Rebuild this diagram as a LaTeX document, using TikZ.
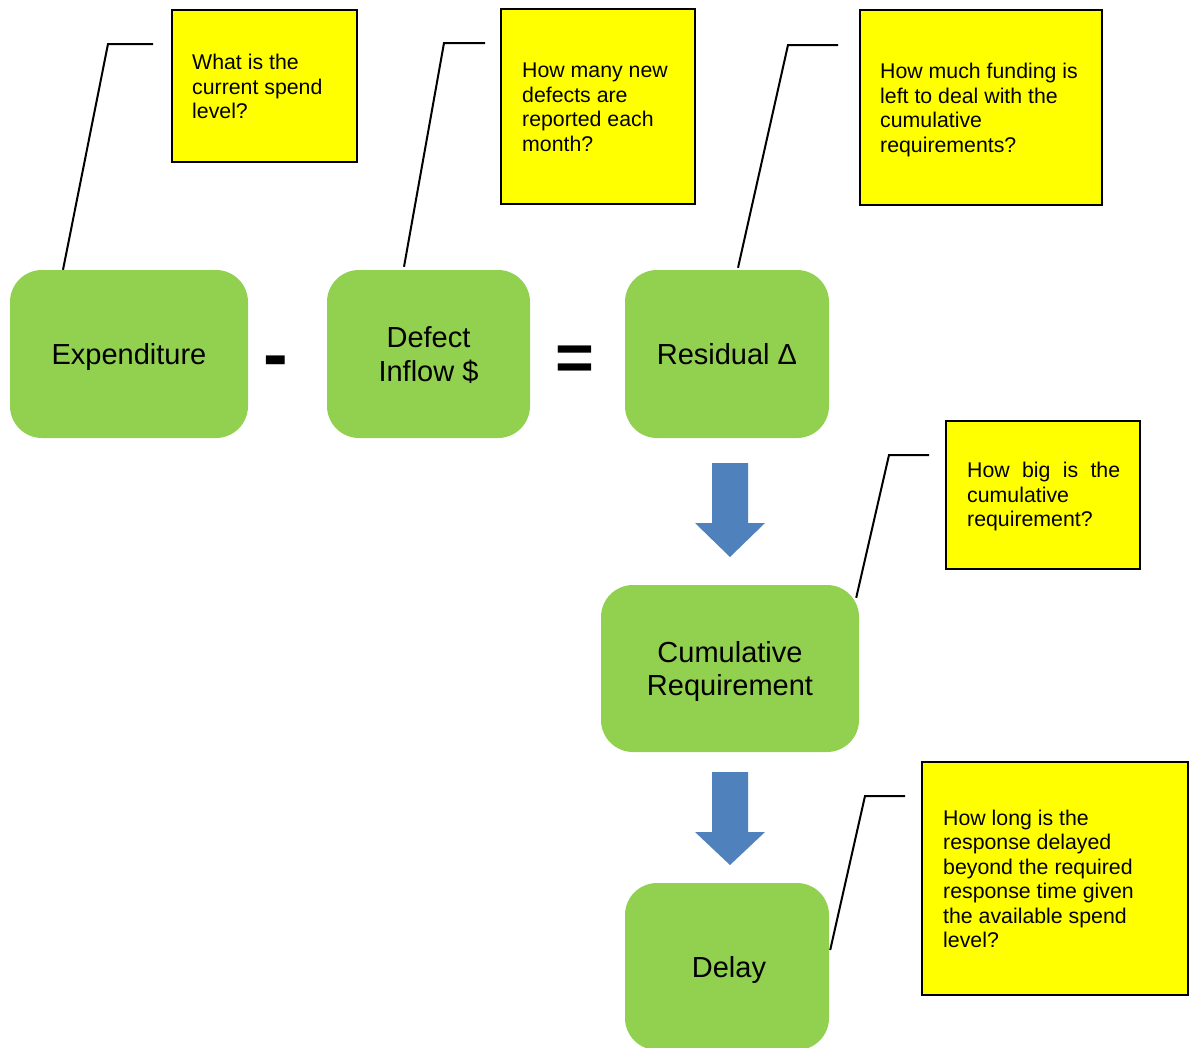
\documentclass[tikz,border=0pt]{standalone}
\usepackage{fontspec}
\setmainfont{Liberation Sans}
\definecolor{stagegreen}{HTML}{92D050}
\definecolor{flowblue}{HTML}{4F81BD}
\definecolor{noteyellow}{HTML}{FFFF00}
\begin{document}
\begin{tikzpicture}[x=1pt,y=-1pt,
  stage/.style={fill=stagegreen, draw=none, rounded corners=32pt, inner sep=0pt,
    align=center, text depth=0pt, font=\fontsize{29}{33.5}\selectfont},
  note/.style={fill=noteyellow, draw=black, line width=2pt, inner sep=0pt},
  notetext/.style={anchor=base west, inner sep=0pt,
    font=\fontsize{21.3}{24.5}\selectfont},
  leader/.style={draw=black, line width=2pt},
  flow/.style={fill=flowblue, draw=none},
  operator/.style={inner sep=0pt, anchor=base, font=\bfseries}]
\useasboundingbox (0,0) rectangle (1191,1047);
\clip (0,0) rectangle (1191,1047);

% process stages
\node[stage, minimum width=238pt, minimum height=168pt] (exp) at (129,354) {Expenditure};
\node[stage, minimum width=203pt, minimum height=168pt] (inflow) at (428.5,354) {Defect\\Inflow \$};
\node[stage, minimum width=204pt, minimum height=168pt] (resid) at (727,354) {Residual Δ};
\node[stage, minimum width=258pt, minimum height=167pt] (cumul) at (730,668.5) {Cumulative\\Requirement};
\node[stage, minimum width=204pt, minimum height=167pt] (delay) at (727,966.5) {\hspace{4pt}Delay};

% arithmetic between the first three stages
\node[operator, font=\bfseries\fontsize{74}{74}\selectfont] (minus) at (276,379) {-};
\node[operator, font=\bfseries\fontsize{66.5}{66.5}\selectfont] (equals) at (574.5,380) {=};

% flow arrows
\coordinate (a1) at (730,463);
\coordinate (a2) at (730,772);
\fill[flow] (a1) ++(-18,0) -- ++(36,0) -- ++(0,60) -- ++(17,0) -- ++(-35,34)
  -- ++(-35,-34) -- ++(17,0) -- cycle;
\fill[flow] (a2) ++(-18,0) -- ++(36,0) -- ++(0,60) -- ++(17,0) -- ++(-35,33)
  -- ++(-35,-33) -- ++(17,0) -- cycle;

% question notes
\node[note, minimum width=185pt, minimum height=152pt] (q1) at (264.5,86) {};
\node[note, minimum width=194pt, minimum height=195pt] (q2) at (598,106.5) {};
\node[note, minimum width=242pt, minimum height=195pt] (q3) at (981,107.5) {};
\node[note, minimum width=194pt, minimum height=148pt] (q4) at (1043,495) {};
\node[note, minimum width=266pt, minimum height=233pt] (q5) at (1055,878.5) {};

\node[notetext] (t1) at (192,69.5)
  {\begin{tabular}[t]{@{}l@{}}What is the\\current spend\\level?\end{tabular}};
\node[notetext] (t2) at (522,77.5)
  {\begin{tabular}[t]{@{}l@{}}How many new\\defects are\\reported each\\month?\end{tabular}};
\node[notetext] (t3) at (880,78.5)
  {\begin{tabular}[t]{@{}l@{}}How much funding is\\left to deal with the\\cumulative\\requirements?\end{tabular}};
\node[notetext] (t4) at (967,477.5)
  {\begin{tabular}[t]{@{}l@{}}\makebox[153pt][s]{How big is the}\\cumulative\\requirement?\end{tabular}};
\node[notetext] (t5) at (943,825)
  {\begin{tabular}[t]{@{}l@{}}How long is the\\response delayed\\beyond the required\\response time given\\the available spend\\level?\end{tabular}};

% leader lines from stages toward their notes
\coordinate (e1) at (108,44);  \coordinate (f1) at (153,44);
\coordinate (e2) at (444,43);  \coordinate (f2) at (485,43);
\coordinate (e3) at (788,45);  \coordinate (f3) at (838,45);
\coordinate (e4) at (889,455); \coordinate (f4) at (929,455);
\coordinate (e5) at (865,796); \coordinate (f5) at (905,796);
\draw[leader] ([xshift=-66pt]exp.north) -- (e1) -- (f1);
\draw[leader] ([xshift=-24.5pt,yshift=3pt]inflow.north) -- (e2) -- (f2);
\draw[leader] ([xshift=11pt,yshift=2pt]resid.north) -- (e3) -- (f3);
\draw[leader] ([xshift=-3pt,yshift=-13pt]cumul.north east) -- (e4) -- (f4);
\draw[leader] ([xshift=1pt,yshift=16.5pt]delay.east) -- (e5) -- (f5);
\end{tikzpicture}
\end{document}
